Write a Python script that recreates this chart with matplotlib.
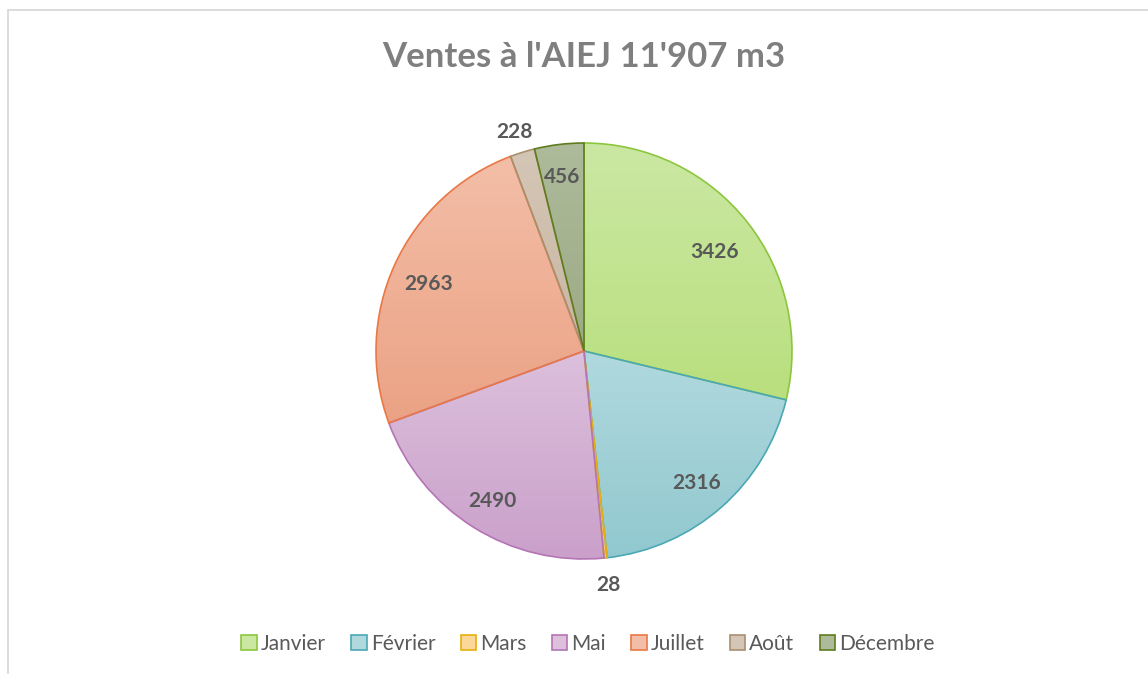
import numpy as np
import matplotlib
matplotlib.use("Agg")
import matplotlib.pyplot as plt
from matplotlib.colors import LinearSegmentedColormap
from matplotlib.patches import Patch, Rectangle

plt.rcParams['font.family'] = ['Lato', 'DejaVu Sans']

# data
months = ["Janvier", "Février", "Mars", "Mai", "Juillet", "Août", "Décembre"]
volumes = [3426, 2316, 28, 2490, 2963, 228, 456]
title = "Ventes à l'AIEJ 11'907 m3"

# style: gradient top / bottom and border colour per slice
top_cols = ['#cbe8a3', '#b0d9de', '#fbd89a', '#dcc0dc', '#f3bea8', '#d4c6b6', '#aebb9b']
bot_cols = ['#b9df7e', '#91c8cf', '#f7c56d', '#caa0ca', '#eba284', '#c8b6a2', '#9caa85']
edge_cols = ['#8cc63e', '#4aa8b5', '#e8b00c', '#b474b5', '#e97845', '#a8906e', '#5e7d1e']
label_dist = [0.80, 0.82, 1.11, 0.83, 0.82, 1.12, 0.86]

W, H = 1148, 674
fig = plt.figure(figsize=(W / 100, H / 100), dpi=100)
ax = fig.add_axes([0, 0, 1, 1])

cx, cy, R = 584, H - 351, 208
wedges, _ = ax.pie(volumes, startangle=90, counterclock=False,
                   center=(cx, cy), radius=R, frame=True,
                   wedgeprops=dict(linewidth=1.2))

# vertical gradient in each slice, light at the top
grad = np.linspace(0, 1, 256).reshape(-1, 1)
for w, c1, c2, ec in zip(wedges, top_cols, bot_cols, edge_cols):
    w.set_facecolor('none')
    w.set_edgecolor(ec)
    w.set_zorder(3)
    bb = w.get_path().get_extents()
    cmap = LinearSegmentedColormap.from_list('g', [c2, c1])
    im = ax.imshow(grad, cmap=cmap, aspect='auto', origin='lower',
                   extent=[bb.x0, bb.x1, bb.y0, bb.y1], zorder=2)
    im.set_clip_path(w)

for w, v, d in zip(wedges, volumes, label_dist):
    ang = np.deg2rad((w.theta1 + w.theta2) / 2)
    ax.text(cx + d * R * np.cos(ang), cy + d * R * np.sin(ang) - 4, str(v),
            ha='center', va='center', fontsize=15, fontweight='bold',
            color='#595959', zorder=5)

ax.set_xlim(0, W)
ax.set_ylim(0, H)
ax.set_aspect('auto')
ax.axis('off')

# chart border (runs off right and bottom edges)
ax.add_patch(Rectangle((8, -10), W, H - 10 + 10, fill=False,
                       edgecolor='#d9d9d9', linewidth=1.3, zorder=1))

ax.text(W / 2 + 10, H - 57, title, ha='center', va='center',
        fontsize=25, fontweight='bold', color='#7f7f7f')

handles = [Patch(facecolor=c1, edgecolor=ec, linewidth=1.2)
           for c1, ec in zip(top_cols, edge_cols)]
fig.legend(handles, months, loc='center', bbox_to_anchor=(588 / W, 1 - 644 / H),
           ncol=7, frameon=False, fontsize=15, labelcolor='#595959',
           handlelength=0.75, handleheight=0.75, handletextpad=0.2,
           columnspacing=1.2)

fig.savefig("out.png", dpi=100)
